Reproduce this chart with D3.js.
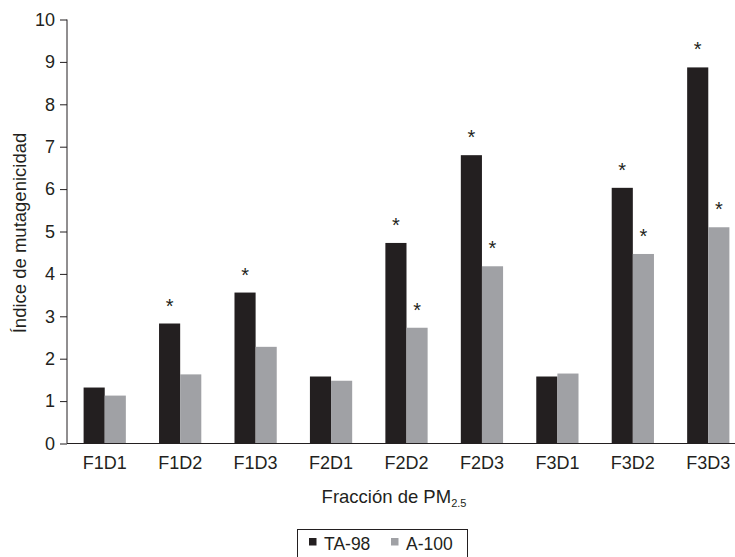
<!DOCTYPE html>
<html>
<head>
<meta charset="utf-8">
<script src="https://cdn.jsdelivr.net/npm/d3@7"></script>
<style>
  body { margin: 0; background: #fff; }
  svg text { font-family: "Liberation Sans", Arial, sans-serif; fill: #231f20; }
</style>
</head>
<body>
<svg id="chart"></svg>
<script>
// data
const fractions = ["F1D1", "F1D2", "F1D3", "F2D1", "F2D2", "F2D3", "F3D1", "F3D2", "F3D3"];
const ta98 = [1.32, 2.83, 3.56, 1.58, 4.73, 6.8, 1.58, 6.03, 8.87];
const a100 = [1.13, 1.63, 2.28, 1.48, 2.73, 4.18, 1.65, 4.47, 5.1];
// significance marks (*)
const sigTA98 = [false, true, true, false, true, true, false, true, true];
const sigA100 = [false, false, false, false, true, true, false, true, true];
const seriesNames = ["TA-98", "A-100"];
const yTicks = [0, 1, 2, 3, 4, 5, 6, 7, 8, 9, 10];

const width = 735, height = 557;
const colors = ["#231f20", "#a0a1a5"];

const svg = d3.select("#chart")
              .attr("width", width)
              .attr("height", height);

// scales
const x = d3.scaleBand()
            .domain(fractions)
            .range([67, 746])
            .paddingInner(0.44)
            .paddingOuter(0.22);
const xSub = d3.scaleBand()
               .domain(seriesNames)
               .range([0, x.bandwidth()]);
const y = d3.scaleLinear()
            .domain([0, 10])
            .range([443.5, 19.5]);

// bars
const rows = fractions.map((f, i) => ({
    name: f,
    vals: [
        {s: "TA-98", v: ta98[i], sig: sigTA98[i]},
        {s: "A-100", v: a100[i], sig: sigA100[i]}
    ]
}));

const groups = svg.selectAll(".grp")
                  .data(rows)
                  .enter()
                  .append("g")
                  .attr("class", "grp")
                  .attr("transform", d => `translate(${x(d.name)},0)`);

groups.selectAll("rect")
      .data(d => d.vals)
      .enter()
      .append("rect")
      .attr("x", d => xSub(d.s))
      .attr("y", d => y(d.v))
      .attr("width", xSub.bandwidth())
      .attr("height", d => y(0) - y(d.v))
      .style("fill", (d, i) => colors[i]);

groups.selectAll(".star")
      .data(d => d.vals.filter(v => v.sig))
      .enter()
      .append("text")
      .attr("class", "star")
      .attr("x", d => xSub(d.s) + xSub.bandwidth() / 2)
      .attr("y", d => y(d.v) - 11)
      .attr("text-anchor", "middle")
      .style("font-size", "20px")
      .text("*");

// y axis
const yAxis = svg.append("g")
                 .attr("transform", "translate(67,0)")
                 .call(d3.axisLeft(y).tickValues(yTicks).tickSize(7).tickPadding(5));
yAxis.select(".domain").attr("stroke", "#231f20").attr("d", `M0,${y(10)}V${y(0)}`);
yAxis.selectAll(".tick line").attr("stroke", "#231f20");
yAxis.selectAll("text").style("font-size", "18px");

// x axis
const xAxis = svg.append("g")
                 .attr("transform", `translate(0,${y(0)})`)
                 .call(d3.axisBottom(x).tickSize(0).tickPadding(13));
xAxis.select(".domain").attr("stroke", "#231f20").attr("d", `M67,0H735`);
xAxis.selectAll("text").style("font-size", "18px");

// axis titles
svg.append("text")
   .attr("transform", "translate(26,233) rotate(-90)")
   .attr("text-anchor", "middle")
   .style("font-size", "18.5px")
   .text("Índice de mutagenicidad");

const xt = svg.append("text")
              .attr("x", 394)
              .attr("y", 503)
              .attr("text-anchor", "middle")
              .style("font-size", "18.5px");
xt.append("tspan").text("Fracción de PM");
xt.append("tspan").attr("dy", 4).style("font-size", "11px").text("2.5");

// legend
const legend = svg.append("g");
legend.append("rect")
      .attr("x", 297.5)
      .attr("y", 529.5)
      .attr("width", 170)
      .attr("height", 40)
      .style("fill", "none")
      .style("stroke", "#231f20");

const legendX = [309, 391];
const items = legend.selectAll(".leg")
                    .data(seriesNames)
                    .enter()
                    .append("g")
                    .attr("class", "leg")
                    .attr("transform", (d, i) => `translate(${legendX[i]},0)`);
items.append("rect")
     .attr("x", 0)
     .attr("y", 538)
     .attr("width", 7.5)
     .attr("height", 7.5)
     .style("fill", (d, i) => colors[i]);
items.append("text")
     .attr("x", 15)
     .attr("y", 550)
     .style("font-size", "17.5px")
     .text(d => d);
</script>
</body>
</html>
